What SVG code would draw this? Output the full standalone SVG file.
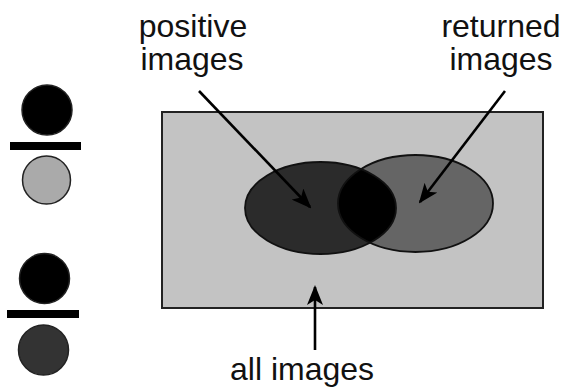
<svg xmlns="http://www.w3.org/2000/svg" width="566" height="387" viewBox="0 0 566 387">
<style>
text{font-family:"Liberation Sans",Arial,sans-serif;font-size:32px;fill:#111;text-anchor:middle}
.ln{stroke:#000;stroke-width:2.6;fill:none}
.ic{stroke:#222;stroke-width:1.5}
</style>
<defs>
<marker id="ah" viewBox="0 0 20 16" refX="18" refY="8" markerWidth="20" markerHeight="16" markerUnits="userSpaceOnUse" orient="auto">
<path d="M0,0 L20,8 L0,16 L5,8 Z" fill="#000"/>
</marker>
<clipPath id="cl"><ellipse cx="320.5" cy="208" rx="75.5" ry="46"/></clipPath>
</defs>
<rect width="566" height="387" fill="#fff"/>
<g id="legend-top">
<circle cx="47" cy="110" r="25" fill="#000" class="ic"/>
<rect x="10" y="142" width="71" height="8" fill="#000"/>
<circle cx="46.5" cy="180" r="24" fill="#aaaaaa" class="ic"/>
</g>
<g id="legend-bottom">
<circle cx="44.5" cy="278.5" r="25" fill="#000" class="ic"/>
<rect x="7" y="310" width="72" height="8" fill="#000"/>
<circle cx="43.5" cy="350" r="25" fill="#333" class="ic"/>
</g>
<g id="all-images">
<rect x="162" y="112" width="381" height="196" fill="#c3c3c3" stroke="#222" stroke-width="2"/>
<text x="302" y="380">all images</text>
</g>
<g id="positive-images">
<ellipse cx="320.5" cy="208" rx="75.5" ry="46" fill="#2b2b2b"/>
<text x="193" y="37">positive</text>
<text x="192" y="70">images</text>
</g>
<g id="returned-images">
<ellipse cx="415.5" cy="203.5" rx="77.5" ry="48.5" fill="#656565"/>
<ellipse cx="415.5" cy="203.5" rx="77.5" ry="48.5" fill="#000" clip-path="url(#cl)"/>
<text x="501" y="37">returned</text>
<text x="501" y="70">images</text>
</g>
<g id="outlines" fill="none" stroke="#111" stroke-width="1.8">
<ellipse cx="320.5" cy="208" rx="75.5" ry="46"/>
<ellipse cx="415.5" cy="203.5" rx="77.5" ry="48.5"/>
</g>
<g id="connectors">
<line class="ln" x1="199" y1="91" x2="310" y2="207" marker-end="url(#ah)"/>
<line class="ln" x1="505" y1="91" x2="420" y2="202" marker-end="url(#ah)"/>
<line class="ln" x1="315" y1="350" x2="315" y2="287" marker-end="url(#ah)"/>
</g>
</svg>
